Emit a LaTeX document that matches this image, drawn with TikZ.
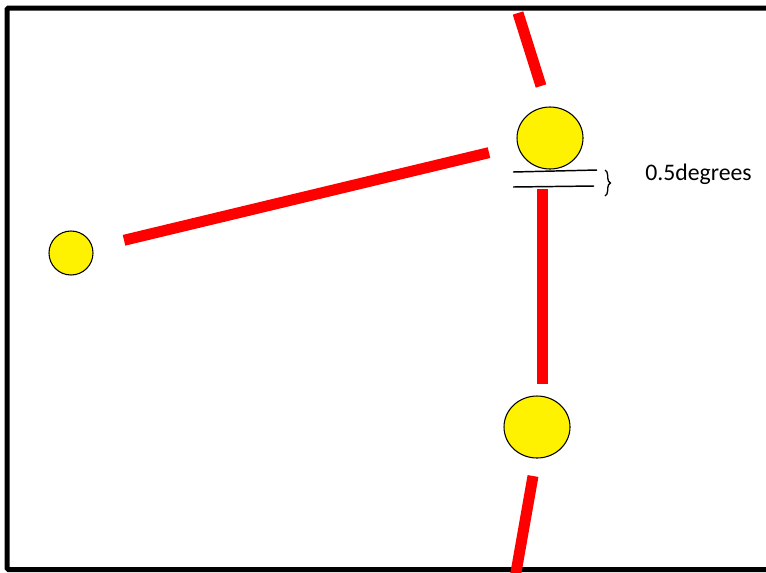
\documentclass[tikz,border=0pt]{standalone}
\usepackage{fontspec}
\setmainfont{Carlito}
\usetikzlibrary{positioning, shapes.geometric, decorations.pathreplacing}

\begin{document}
\begin{tikzpicture}[
  x=0.75pt, y=-0.75pt,
  ball/.style={ellipse, draw=black, line width=0.8pt, fill=yellow,
    minimum width=49.5pt, minimum height=46.5pt, inner sep=0pt},
  smallball/.style={ball, minimum width=33pt, minimum height=33pt},
  redbar/.style={draw=red, line width=8.25pt},
  gapline/.style={draw=black, line width=1.1pt},
  caplbl/.style={font=\fontsize{17.8}{20}\selectfont, anchor=west, inner sep=0pt}
]
\useasboundingbox (0,0) rectangle (766,572);

% outer frame, its right side lies past the picture
\draw[line width=3.75pt, rounded corners=1pt] (7,8) rectangle (790,569.5);

% the three balls
\node[ball]      (top) at (550,138) {};
\node[ball]      (bot) at (537,427) {};
\node[smallball] (lft) at (71,253)  {};

% free ends of the red bars
\coordinate (edgeT) at (518,13);
\coordinate (nearT) at (541,86);
\coordinate (gapB)  at (542,189);
\coordinate (nearB) at (542,384);
\coordinate (farB)  at (533,476);
\coordinate (edgeB) at (515,578);

% red bars
\draw[redbar] (edgeT) -- (nearT);
\draw[redbar, shorten <=24pt, shorten >=22pt] (lft) -- (top);
\draw[redbar] (gapB) -- (nearB);
\draw[redbar] (farB) -- (edgeB);

% the gap below the top ball
\coordinate (g1a) at (513,172);
\coordinate (g1b) at (597,170);
\coordinate (g2a) at (513,187);
\coordinate (g2b) at (594,186);
\draw[gapline] (g1a) -- (g1b);
\draw[gapline] (g2a) -- (g2b);

% brace and its label
\coordinate (brT) at (605,170);
\coordinate (brB) at (605,196);
\draw[decorate, decoration={brace, amplitude=4pt}, line width=1pt] (brT) -- (brB);
\node[caplbl] (deg) at (645,174) {0.5degrees};

\end{tikzpicture}
\end{document}
